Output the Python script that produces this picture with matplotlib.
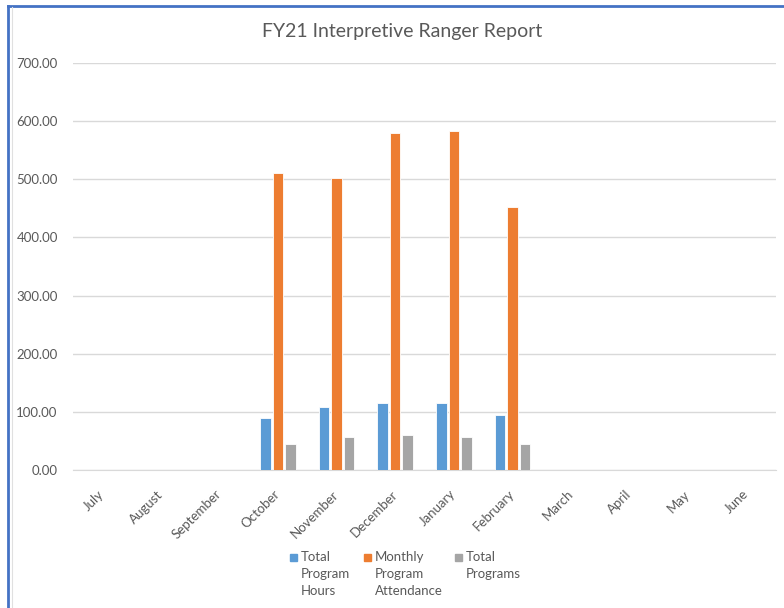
import numpy as np
import matplotlib.pyplot as plt
from matplotlib.patches import Rectangle
from matplotlib.lines import Line2D

plt.rcParams['font.family'] = ['Lato', 'DejaVu Sans']

# 数据
months = ['July', 'August', 'September', 'October', 'November', 'December',
          'January', 'February', 'March', 'April', 'May', 'June']
program_hours = [0, 0, 0, 90, 108, 115, 115, 94, 0, 0, 0, 0]
attendance = [0, 0, 0, 510, 502, 579, 583, 453, 0, 0, 0, 0]
total_programs = [0, 0, 0, 45, 56, 61, 57, 45, 0, 0, 0, 0]
series_names = ['Total\nProgram\nHours', 'Monthly\nProgram\nAttendance', 'Total\nPrograms']
colors = ['#5B9BD5', '#ED7D31', '#A5A5A5']

fig = plt.figure(figsize=(7.84, 6.08), dpi=100)
ax = fig.add_axes([73 / 784, 1 - 470 / 608, (776 - 73) / 784, (470 - 63) / 608])

x = np.arange(len(months))
w = 0.18
step = 0.213
for i, (vals, c) in enumerate(zip([program_hours, attendance, total_programs], colors)):
    ax.bar(x + (i - 1) * step, vals, width=w, color=c, edgecolor='white', linewidth=0.6, zorder=3)

ax.set_xlim(-0.5, len(months) - 0.5)
ax.set_ylim(0, 700)
ax.set_yticks(np.arange(0, 701, 100))
ax.set_yticklabels(['%.2f' % v for v in np.arange(0, 701, 100)])
ax.yaxis.grid(True, color='#D9D9D9', linewidth=1, zorder=0)
for s in ['top', 'right', 'left']:
    ax.spines[s].set_visible(False)
ax.spines['bottom'].set_color('#D9D9D9')
ax.tick_params(axis='both', length=0, colors='#595959', labelsize=9.5)
ax.tick_params(axis='y', pad=11)
ax.set_xticks(x)
ax.set_xticklabels(months, rotation=45, ha='right', va='center', rotation_mode='anchor')
ax.tick_params(axis='x', pad=16)

fig.text(402 / 784, 1 - 32 / 608, 'FY21 Interpretive Ranger Report', ha='center', va='center',
         fontsize=14, color='#595959')

# 图例
leg_x = [290, 364, 455]
for lx, name, c in zip(leg_x, series_names, colors):
    fig.patches.append(Rectangle((lx / 784, 1 - 561 / 608), 7 / 784, 7 / 608,
                                 transform=fig.transFigure, color=c))
    fig.text((lx + 11) / 784, 1 - 551 / 608, name, ha='left', va='top', fontsize=9.5,
             color='#595959', linespacing=1.5)

# 边框
fig.lines.append(Line2D([8 / 784, 8 / 784], [0, 1 - 6 / 608], transform=fig.transFigure,
                        color='#4472C4', linewidth=2))
fig.lines.append(Line2D([8 / 784, 1], [1 - 6 / 608, 1 - 6 / 608], transform=fig.transFigure,
                        color='#4472C4', linewidth=2))
fig.lines.append(Line2D([12 / 784, 12 / 784], [0, 1 - 7 / 608], transform=fig.transFigure,
                        color='#E0E0E0', linewidth=0.8))

fig.savefig('out.png', dpi=100)
